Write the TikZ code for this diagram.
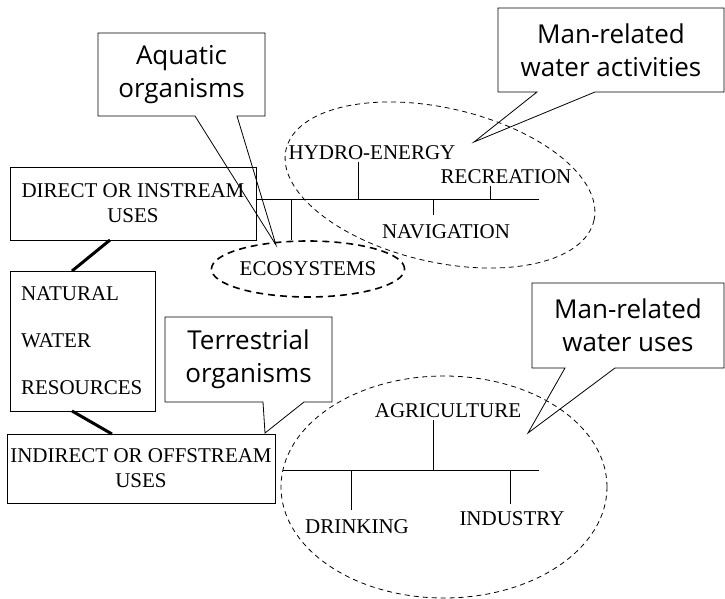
\documentclass[tikz,border=0pt]{standalone}
\usepackage{fontspec}
\setmainfont{Liberation Serif}
\newfontfamily\calloutfont{Open Sans}
\usetikzlibrary{shapes.geometric}

\begin{document}
\begin{tikzpicture}[
  x=1pt, y=-1pt,
  box/.style={rectangle, draw, line width=0.8pt, align=center, font=\fontsize{21}{25}\selectfont, inner sep=0pt, outer sep=0pt},
  callbox/.style={rectangle, align=center, font=\calloutfont\fontsize{26}{33}\selectfont, inner sep=0pt, outer sep=0pt},
  callline/.style={line width=0.8pt, line join=miter},
  item/.style={font=\fontsize{21}{25}\selectfont, inner sep=2pt},
  wire/.style={line width=0.8pt},
  link/.style={line width=3pt},
  zone/.style={line width=0.8pt, dash pattern=on 5pt off 4pt},
]
\useasboundingbox (0,0) rectangle (725,599);

% === WATER RESOURCE BOXES ===
\node[box, minimum width=246pt, minimum height=73pt] (direct) at (133,203.5) {DIRECT OR INSTREAM\\USES};
\node[box, align=left, text width=123pt, inner xsep=11pt, minimum height=140pt] (natural) at (82.5,341)
  {NATURAL\\[22pt]WATER\\[22pt]RESOURCES};
\node[box, minimum width=268pt, minimum height=69pt] (indirect) at (141,468.5) {INDIRECT OR OFFSTREAM\\USES};

\draw[link] ([xshift=-23pt]direct.south) -- ([xshift=-10.5pt]natural.north);
\draw[link] ([xshift=-10.5pt]natural.south) -- ([xshift=-29pt]indirect.north);

% === INSTREAM USES ===
\draw[zone, rotate around={-13:(440,185)}] (440,185) ellipse [x radius=158pt, y radius=77pt];

\node[item] (hydro) at (372,153) {HYDRO-ENERGY};
\node[item] (recreation) at (506,177) {RECREATION};
\node[item] (navigation) at (446,232) {NAVIGATION};
\node[ellipse, draw, line width=1.6pt, dash pattern=on 7pt off 5pt, minimum width=165pt, minimum height=56pt,
  inner sep=0pt, font=\fontsize{21}{25}\selectfont] (eco) at (308,269) {ECOSYSTEMS};

\coordinate (bus1 end) at (539,199);
\coordinate (t hydro) at (358,199);
\coordinate (t recreation) at (490,199);
\coordinate (t navigation) at (433,199);
\coordinate (t eco) at (291,199);
\draw[wire] (direct.east |- bus1 end) -- (bus1 end);
\draw[wire] (t hydro) -- (t hydro |- hydro.south);
\draw[wire] (t recreation) -- (t recreation |- recreation.south);
\draw[wire] (t navigation) -- ([yshift=8pt]t navigation |- navigation.north);
\draw[wire] (t eco) -- (t eco |- eco.north);

% === OFFSTREAM USES ===
\draw[zone] (444,487) ellipse [x radius=163pt, y radius=111pt];

\node[item] (agriculture) at (448,410.5) {AGRICULTURE};
\node[item] (drinking) at (357,526.5) {DRINKING};
\node[item] (industry) at (512,518.5) {INDUSTRY};

\coordinate (bus2 start) at (283,470);
\coordinate (bus2 end) at (539,470);
\coordinate (t agriculture) at (433,470);
\coordinate (t drinking) at (351,470);
\coordinate (t industry) at (510,470);
\draw[wire] (bus2 start) -- (bus2 end);
\draw[wire] (t agriculture) -- (t agriculture |- agriculture.south);
\draw[wire] (t drinking) -- ([yshift=7pt]t drinking |- drinking.north);
\draw[wire] (t industry) -- ([yshift=5pt]t industry |- industry.north);

% === CALLOUTS ===
\node[callbox, minimum width=167pt, minimum height=83pt] (aquatic) at (181.5,74.5) {Aquatic\\organisms};
\coordinate (aquatic tip) at (276,245);
\draw[callline] (aquatic.south west) -- ([xshift=97pt]aquatic.south west) -- (aquatic tip)
  -- ([xshift=139pt]aquatic.south west) -- (aquatic.south east) -- (aquatic.north east)
  -- (aquatic.north west) -- cycle;

\node[callbox, minimum width=226pt, minimum height=84pt] (activities) at (611,50) {Man-related\\water activities};
\coordinate (activities tip) at (474,142);
\draw[callline] (activities.south west) -- ([xshift=39pt]activities.south west) -- (activities tip)
  -- ([xshift=97pt]activities.south west) -- (activities.south east) -- (activities.north east)
  -- (activities.north west) -- cycle;

\node[callbox, minimum width=167pt, minimum height=85pt] (terrestrial) at (248.5,359.5) {Terrestrial\\organisms};
\coordinate (terrestrial tip) at (265,433);
\draw[callline] (terrestrial.south west) -- ([xshift=98pt]terrestrial.south west) -- (terrestrial tip)
  -- ([xshift=139pt]terrestrial.south west) -- (terrestrial.south east) -- (terrestrial.north east)
  -- (terrestrial.north west) -- cycle;

\node[callbox, minimum width=192pt, minimum height=85pt] (wateruses) at (628,325.5) {Man-related\\water uses};
\coordinate (wateruses tip) at (528,433);
\draw[callline] (wateruses.south west) -- ([xshift=33pt]wateruses.south west) -- (wateruses tip)
  -- ([xshift=83pt]wateruses.south west) -- (wateruses.south east) -- (wateruses.north east)
  -- (wateruses.north west) -- cycle;
\end{tikzpicture}
\end{document}
